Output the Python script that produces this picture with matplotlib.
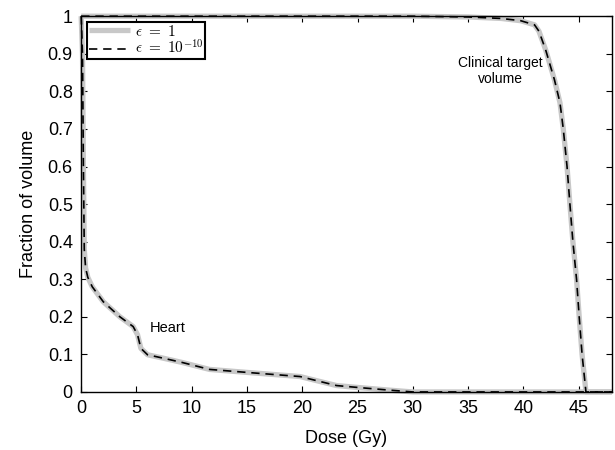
import numpy as np
import matplotlib
matplotlib.use('Agg')
import matplotlib.pyplot as plt

plt.rcParams['font.family'] = ['Liberation Sans', 'DejaVu Sans']
plt.rcParams['mathtext.fontset'] = 'cm'

# dose-volume histogram
heart_dose = [0, 0.12, 0.2, 0.28, 0.4, 0.6, 1.0, 2.0, 3.5, 4.7, 5.1, 5.4, 6.0,
              7.4, 9.2, 11.6, 15.0, 19.8, 21.3, 23.1, 25.0, 27.8, 30.0, 48.0]
heart_frac = [1.0, 0.9, 0.6, 0.38, 0.33, 0.305, 0.28, 0.24, 0.2, 0.174, 0.152,
              0.116, 0.099, 0.09, 0.078, 0.06, 0.052, 0.041, 0.03, 0.017,
              0.012, 0.005, 0.0, 0.0]

ctv_dose = [0, 30.0, 35.0, 38.0, 39.75, 41.0, 41.4, 42.0, 42.8, 43.3, 43.6,
            43.94, 44.2, 44.47, 44.8, 45.04, 45.3, 45.65, 48.0]
ctv_frac = [1.0, 1.0, 0.998, 0.994, 0.988, 0.977, 0.96, 0.911, 0.831, 0.77,
            0.7, 0.6, 0.5, 0.4, 0.3, 0.2, 0.1, 0.0, 0.0]

labels = [r'$\epsilon\ =\ 1$', r'$\epsilon\ =\ 10^{-10}$']
xticks = [0, 5, 10, 15, 20, 25, 30, 35, 40, 45]
yticks = [0, 0.1, 0.2, 0.3, 0.4, 0.5, 0.6, 0.7, 0.8, 0.9, 1]
ytick_labels = ['0', '0.1', '0.2', '0.3', '0.4', '0.5', '0.6', '0.7', '0.8', '0.9', '1']

fig = plt.figure(figsize=(6.15, 4.5), dpi=100)
ax = fig.add_axes([0.132, 0.129, 0.863, 0.835])

gray = '#c8c8c8'
ax.plot(heart_dose, heart_frac, color=gray, lw=3.8, label=labels[0], clip_on=False,
        solid_capstyle='butt')
ax.plot(ctv_dose, ctv_frac, color=gray, lw=3.8, clip_on=False, solid_capstyle='butt')
ax.plot(heart_dose, heart_frac, color='black', lw=1.2, dashes=(5, 3.5),
        label=labels[1], clip_on=False)
ax.plot(ctv_dose, ctv_frac, color='black', lw=1.2, dashes=(5, 3.5), clip_on=False)

ax.text(6.2, 0.17, 'Heart', fontsize=10.5, va='center', ha='left')
ax.text(37.9, 0.855, 'Clinical target\nvolume', fontsize=10, va='center', ha='center',
        linespacing=1.2)

ax.set_xlim(0, 48)
ax.set_ylim(0, 1)
ax.set_xticks(xticks)
ax.set_yticks(yticks)
ax.set_yticklabels(ytick_labels)
ax.tick_params(direction='in', top=True, right=True, length=4.5, width=0.8,
               labelsize=13, pad=6)
for s in ax.spines.values():
    s.set_linewidth(1.0)

ax.set_xlabel('Dose (Gy)', fontsize=13, labelpad=9)
ax.set_ylabel('Fraction of volume', fontsize=13, labelpad=8)

leg = ax.legend(loc='upper left', fontsize=11, handlelength=2.7, handletextpad=0.3,
                borderpad=0.1, labelspacing=0.0, borderaxespad=0.4,
                fancybox=False, framealpha=1)
leg.get_frame().set_edgecolor('black')
leg.get_frame().set_linewidth(1.5)

fig.savefig('out.png', dpi=100)
